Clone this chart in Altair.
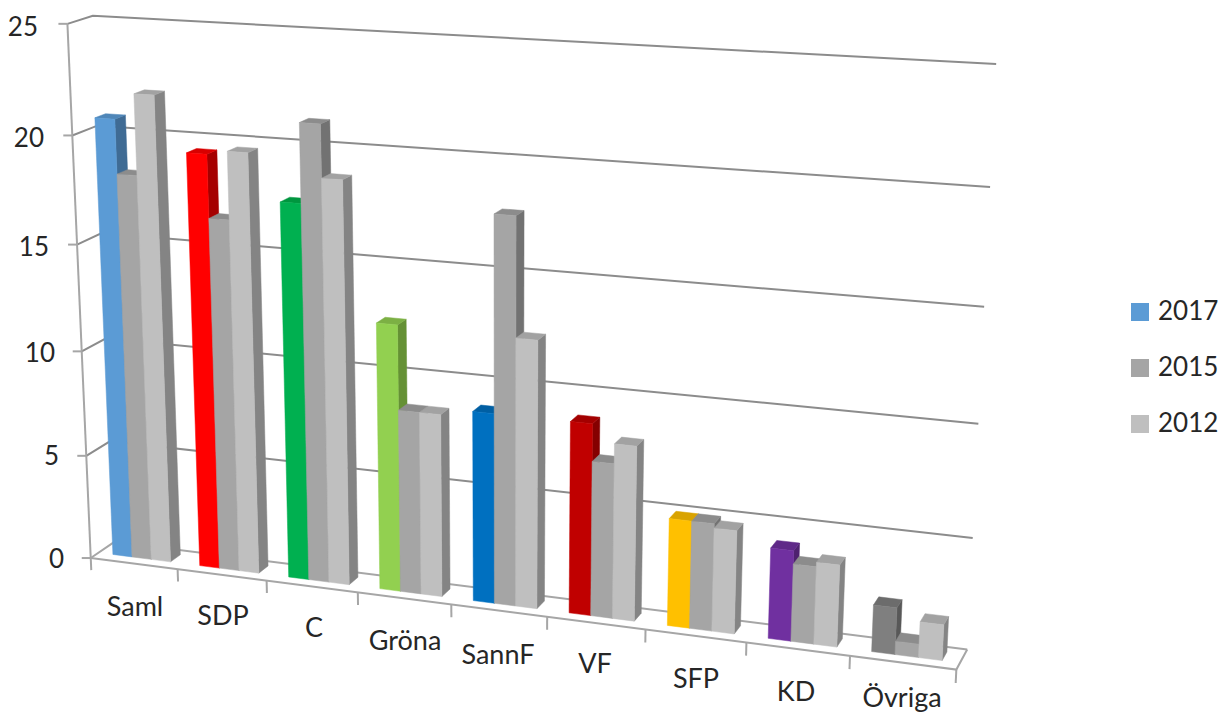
import numpy as np
import altair as alt

categories = ["Saml", "SDP", "C", "Gröna", "SannF", "VF", "SFP", "KD", "Övriga"]
v2017 = [20.7, 19.4, 17.5, 12.4, 8.8, 8.8, 4.9, 4.1, 2.1]
v2015 = [18.2, 16.5, 21.1, 8.5, 17.7, 7.1, 4.9, 3.5, 0.6]
v2012 = [21.9, 19.6, 18.7, 8.5, 12.3, 8.0, 4.7, 3.7, 1.6]
series_names = ["2017", "2015", "2012"]
legend_colors = ["#5B9BD5", "#A5A5A5", "#BFBFBF"]
front_2017 = ["#5B9BD5", "#FF0000", "#00B050", "#92D050", "#0070C0", "#C00000", "#FFC000", "#7030A0", "#7F7F7F"]
side_2017 = ["#3F6B94", "#A50000", "#007A37", "#659135", "#004E85", "#850000", "#B08500", "#4E216F", "#585858"]
top_2017 = ["#4F86B8", "#D80000", "#00963F", "#7CB044", "#005FA3", "#A30000", "#D9A300", "#5F2988", "#6C6C6C"]
gray_faces = {"2015": ("#A5A5A5", "#727272", "#8C8C8C"), "2012": ("#BFBFBF", "#848484", "#A2A2A2")}
y_ticks = [0, 5, 10, 15, 20, 25]
y_tick_label_pos = [(64, 560), (59, 457), (55, 354), (49, 248), (44, 139), (38, 28)]
cat_label_pos = [(135, 608), (223, 617), (314, 629), (405, 642), (498, 656), (595, 665), (696, 680), (796, 693), (902, 699)]

# calibration of the 3D box: (category u, value v, depth w) -> picture
calib = [
    ((0, 25, 0), (66.7, 24)), ((0, 20, 0), (71.7, 135)), ((0, 0, 0), (92.3, 557)),
    ((0, 25, 1), (94, 16)), ((0, 0, 1), (113, 543)), ((9, 25, 1), (996, 64)),
    ((9, 20, 1), (990, 187)), ((9, 15, 1), (984, 307)), ((9, 10, 1), (979, 423.5)),
    ((9, 5, 1), (973, 538)), ((9, 0, 1), (967, 648)), ((9, 0, 0), (956, 671)),
]
A = []
for (u, v, w), (x, y) in calib:
    A.append([u, v, w, 1, 0, 0, 0, 0, -x * u, -x * v, -x * w, -x])
    A.append([0, 0, 0, 0, u, v, w, 1, -y * u, -y * v, -y * w, -y])
P = np.linalg.svd(np.array(A, float))[2][-1].reshape(3, 4)


def proj(u, v, w):
    q = P @ np.array([u, v, w, 1.0])
    return [float(q[0] / q[2]), float(q[1] / q[2])]


def feature(points, fill=None, stroke=None):
    if fill is not None:
        geom = {"type": "Polygon", "coordinates": [points + [points[0]]]}
    else:
        geom = {"type": "LineString", "coordinates": points}
    return {"type": "Feature", "geometry": geom, "properties": {"fill": fill, "stroke": stroke or fill}}


GRID = "#8C8C8C"
AXIS = "#A6A6A6"
lines = []
for t in y_ticks:
    lines.append(feature([proj(0, t, 0), proj(0, t, 1), proj(9, t, 1)], stroke=GRID if t else AXIS))
lines.append(feature([proj(0, 0, 0), proj(0, 25, 0)], stroke=AXIS))
lines.append(feature([proj(0, 0, 0), proj(9, 0, 0), proj(9, 0, 1)], stroke=AXIS))
for t in y_ticks:
    a = proj(0, t, 0)
    lines.append(feature([[a[0] - 9, a[1]], a], stroke=AXIS))
for i in range(len(categories) + 1):
    lines.append(feature([proj(i, 0, 0), proj(i, -0.6, 0)], stroke=AXIS))

GAP = 1 / 6
BAR = 2 / 9
W0, W1 = 0.33, 0.76
faces = []
for i, vals in enumerate(zip(v2017, v2015, v2012)):
    for j, val in enumerate(vals):
        u0 = i + GAP + j * BAR
        u1 = u0 + BAR
        if j == 0:
            f, s, t = front_2017[i], side_2017[i], top_2017[i]
        else:
            f, s, t = gray_faces[series_names[j]]
        faces.append(feature([proj(u1, 0, W0), proj(u1, 0, W1), proj(u1, val, W1), proj(u1, val, W0)], s))
        faces.append(feature([proj(u0, val, W0), proj(u1, val, W0), proj(u1, val, W1), proj(u0, val, W1)], t))
        faces.append(feature([proj(u0, 0, W0), proj(u1, 0, W0), proj(u1, val, W0), proj(u0, val, W0)], f))

line_layer = (
    alt.Chart(alt.Data(values=lines))
    .mark_geoshape(filled=False, strokeWidth=2)
    .encode(stroke=alt.Stroke("properties.stroke:N", scale=None))
    .project(type="identity", scale=1, translate=[-8, -8])
)
face_layer = (
    alt.Chart(alt.Data(values=faces))
    .mark_geoshape(strokeWidth=0.5)
    .encode(fill=alt.Fill("properties.fill:N", scale=None), stroke=alt.Stroke("properties.stroke:N", scale=None))
    .project(type="identity", scale=1, translate=[-8, -8])
)

xs = alt.Scale(domain=[8, 1219], range=[0, 1211], nice=False, zero=False)
ys = alt.Scale(domain=[8, 716], range=[0, 708], nice=False, zero=False)
tick_rows = [{"t": str(t), "x": p[0], "y": p[1]} for t, p in zip(y_ticks, y_tick_label_pos)]
cat_rows = [{"t": c, "x": p[0], "y": p[1]} for c, p in zip(categories, cat_label_pos)]
tick_text = (
    alt.Chart(alt.Data(values=tick_rows))
    .mark_text(font="Lato", fontSize=26, align="right", color="#262626")
    .encode(x=alt.X("x:Q", scale=xs, axis=None), y=alt.Y("y:Q", scale=ys, axis=None), text="t:N")
)
cat_text = (
    alt.Chart(alt.Data(values=cat_rows))
    .mark_text(font="Lato", fontSize=27, align="center", color="#262626")
    .encode(x=alt.X("x:Q", scale=xs, axis=None), y=alt.Y("y:Q", scale=ys, axis=None), text="t:N")
)
legend_layer = (
    alt.Chart(alt.Data(values=[{"s": s} for s in series_names]))
    .mark_square(opacity=0)
    .encode(
        x=alt.value(0),
        y=alt.value(0),
        color=alt.Color(
            "s:N",
            scale=alt.Scale(domain=series_names, range=legend_colors),
            legend=alt.Legend(
                title=None, orient="none", legendX=1119, legendY=291, symbolType="square",
                symbolSize=324, symbolOpacity=1, symbolStrokeWidth=0, labelFont="Lato", labelFontSize=26,
                labelColor="#262626", rowPadding=30, labelOffset=5,
            ),
        ),
    )
)

chart = (
    alt.layer(line_layer, face_layer, tick_text, cat_text, legend_layer)
    .properties(width=1211, height=708, padding=0, autosize="none", background="white")
    .configure_view(stroke=None)
)
chart.save("out.html", embed_options={"renderer": "svg", "actions": False})
